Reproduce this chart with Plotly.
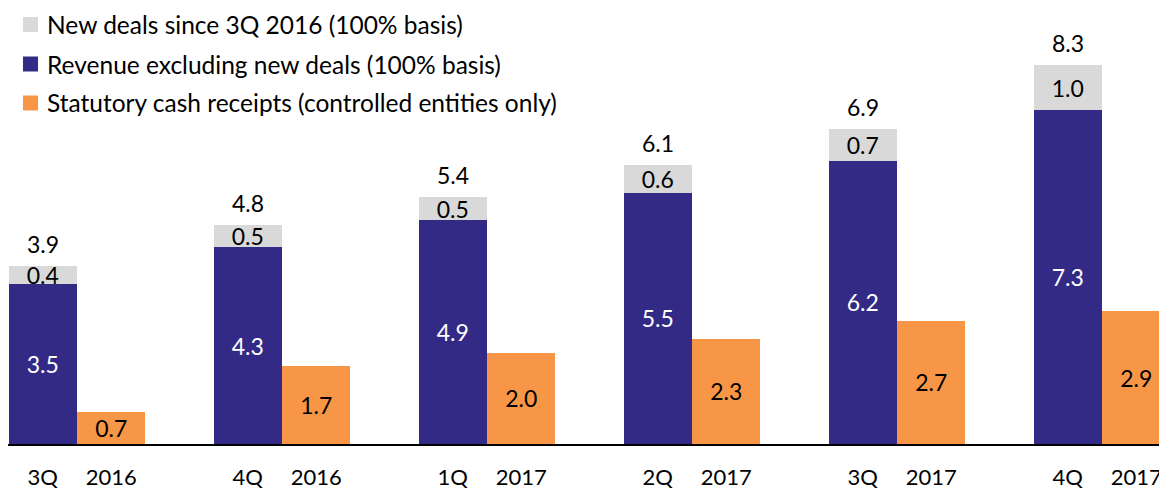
import plotly.graph_objects as go

periods_q = ["3Q", "4Q", "1Q", "2Q", "3Q", "4Q"]
periods_y = ["2016", "2016", "2017", "2017", "2017", "2017"]
revenue_ex_new = [3.5, 4.3, 4.9, 5.5, 6.2, 7.3]
new_deals = [0.4, 0.5, 0.5, 0.6, 0.7, 1.0]
cash_receipts = [0.7, 1.7, 2.0, 2.3, 2.7, 2.9]

series_names = [
    "New deals since 3Q 2016 (100% basis)",
    "Revenue excluding new deals (100% basis)",
    "Statutory cash receipts (controlled entities only)",
]

GRAY = "#D9D9D9"
PURPLE = "#332A86"
ORANGE = "#F79646"
FONT = "Lato"
FS_NUM = 23
FS_LEG = 24.5
FS_TICK = 22

# page body has an 8px margin; work in figure coordinates = reference px - 8
OFF = 8
W, H = 1167 - OFF, 489 - OFF
BASE = 444 - OFF          # baseline y in figure px
ML, MR, MT = 0, 0, 0
MB = H - BASE
PW, PH = W - ML - MR, BASE - MT
PX_PER_UNIT = 45.7

idx = list(range(len(periods_q)))
bw = 0.334
xp = [i - bw / 2 for i in idx]
xo = [i + bw / 2 for i in idx]

fig = go.Figure()
fig.add_trace(go.Bar(
    x=xp, y=revenue_ex_new, width=bw, marker=dict(color=PURPLE, line=dict(width=0)),
    text=[f"{v:.1f}" for v in revenue_ex_new], textposition="inside",
    insidetextanchor="middle", textfont=dict(color="white", size=FS_NUM, family=FONT),
    name=series_names[1], showlegend=False,
))
fig.add_trace(go.Bar(
    x=xp, y=new_deals, width=bw, marker=dict(color=GRAY, line=dict(width=0)),
    text=[f"{v:.1f}" for v in new_deals], textposition="inside",
    insidetextanchor="middle", textfont=dict(color="black", size=FS_NUM, family=FONT),
    name=series_names[0], showlegend=False, cliponaxis=False,
))
fig.add_trace(go.Bar(
    x=xo, y=cash_receipts, width=bw, marker=dict(color=ORANGE, line=dict(width=0)),
    text=[f"{v:.1f}" for v in cash_receipts], textposition="inside",
    insidetextanchor="middle", textfont=dict(color="black", size=FS_NUM, family=FONT),
    name=series_names[2], showlegend=False,
))

totals = [a + b for a, b in zip(revenue_ex_new, new_deals)]
annotations = []
for x, t in zip(xp, totals):
    annotations.append(dict(x=x, y=t, xref="x", yref="y", text=f"{t:.1f}",
                            showarrow=False, yanchor="bottom", yshift=6,
                            font=dict(size=FS_NUM, color="black", family=FONT)))

# manual legend (reference pixel positions)
shapes = []
leg_colors = [GRAY, PURPLE, ORANGE]
leg_y = [24.5, 64, 103]
for name, col, cy in zip(series_names, leg_colors, leg_y):
    x0, x1 = 23 - OFF, 38 - OFF
    y0, y1 = cy - 7.5 - OFF, cy + 7.5 - OFF
    shapes.append(dict(type="rect", xref="paper", yref="paper",
                       x0=(x0 - ML) / PW, x1=(x1 - ML) / PW,
                       y0=1 - (y1 - MT) / PH, y1=1 - (y0 - MT) / PH,
                       fillcolor=col, line=dict(width=0)))
    annotations.append(dict(x=(45 - OFF - ML) / PW, y=1 - (cy - OFF - MT) / PH,
                            xref="paper", yref="paper",
                            text=name, showarrow=False, xanchor="left", yanchor="middle",
                            font=dict(size=FS_LEG, color="black", family=FONT)))

tickvals = []
ticktext = []
for i in idx:
    tickvals += [xp[i], xo[i]]
    ticktext += [periods_q[i], periods_y[i]]

fig.update_layout(
    barmode="stack",
    width=W, height=H,
    margin=dict(l=ML, r=MR, t=MT, b=MB, pad=0),
    plot_bgcolor="white", paper_bgcolor="white",
    font=dict(family=FONT, size=FS_NUM, color="black"),
    uniformtext=dict(minsize=FS_NUM, mode="show"),
    xaxis=dict(range=[(8 - 77) / 205, (1167 - 77) / 205], tickvals=tickvals, ticktext=ticktext,
               showline=True, linecolor="black", linewidth=2, showgrid=False, zeroline=False,
               ticks="", ticklabelstandoff=13, ticklabeloverflow="allow",
               tickfont=dict(size=FS_TICK, family=FONT, color="black")),
    yaxis=dict(range=[0, PH / PX_PER_UNIT], visible=False, showgrid=False, zeroline=False),
    shapes=shapes,
    annotations=annotations,
    showlegend=False,
)

fig.write_html("out.html")
